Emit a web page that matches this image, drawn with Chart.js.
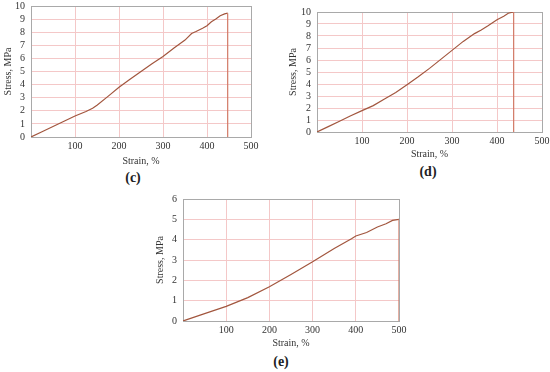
<!DOCTYPE html>
<html>
<head>
<meta charset="utf-8">
<script src="https://cdn.jsdelivr.net/npm/chart.js@4"></script>
<style>
  html, body { margin: 0; padding: 0; background: #fff; }
  body { width: 550px; height: 372px; position: relative; overflow: hidden; }
  canvas { position: absolute; }
  .lbl { position: absolute; font-family: "Liberation Serif", serif; font-weight: bold; font-size: 14px; color: #222; transform: translate(-50%, -50%); white-space: nowrap; }
</style>
</head>
<body>
<canvas id="cC" width="265" height="167" style="left:0px;top:0px"></canvas>
<canvas id="cD" width="265" height="160" style="left:285px;top:0px"></canvas>
<canvas id="cE" width="265" height="159" style="left:150px;top:190px"></canvas>
<div class="lbl" style="left:133px;top:178px">(c)</div>
<div class="lbl" style="left:428px;top:172px">(d)</div>
<div class="lbl" style="left:281px;top:362px">(e)</div>
<script>
// ---- data ----
const strainTicks = [0, 100, 200, 300, 400, 500];
const xTitle = "Strain, %";
const yTitle = "Stress, MPa";

const strainC = [0, 25, 50, 75, 100, 125, 140, 150, 175, 200, 225, 250, 275, 300, 325, 350, 365, 375, 390, 400, 410, 420, 430, 440, 447, 447];
const stressC = [0, 0.4, 0.8, 1.2, 1.6, 1.95, 2.2, 2.42, 3.1, 3.8, 4.4, 5.0, 5.6, 6.15, 6.8, 7.4, 7.9, 8.05, 8.3, 8.5, 8.8, 9.0, 9.25, 9.4, 9.45, 0];

const strainD = [0, 25, 50, 75, 100, 125, 150, 175, 200, 225, 250, 275, 300, 325, 350, 365, 380, 400, 415, 425, 437, 437];
const stressD = [0, 0.45, 0.9, 1.35, 1.78, 2.2, 2.75, 3.3, 3.94, 4.6, 5.3, 6.05, 6.8, 7.55, 8.2, 8.5, 8.85, 9.35, 9.65, 9.9, 10.0, 0];

const strainE = [0, 50, 100, 150, 200, 250, 300, 350, 390, 400, 425, 450, 470, 485, 500, 500];
const stressE = [0, 0.36, 0.72, 1.15, 1.68, 2.29, 2.91, 3.57, 4.05, 4.18, 4.35, 4.62, 4.78, 4.95, 5.0, 0];

// ---- styles ----
const GRID = '#f4c8c8';
const BORDER = '#a9a9a9';
const LINE = '#a2563e';
const DROP = '#d27a66';
const FONT = { family: '"Liberation Serif", "Times New Roman", serif', size: 10 };

function makeChart(id, xs, ys, yMax, cfg) {
  const pts = xs.map((x, i) => ({ x: x, y: ys[i] }));
  const gridColor = (max) => (ctx) => {
    const v = ctx.tick ? ctx.tick.value : null;
    if (v === 0 || v === max) return BORDER;
    return GRID;
  };
  return new Chart(document.getElementById(id), {
    type: 'line',
    data: {
      datasets: [{
        data: pts,
        borderColor: LINE,
        borderWidth: 1.2,
        pointRadius: 0,
        tension: 0,
        segment: {
          borderColor: (c) => (c.p0.parsed.x === c.p1.parsed.x ? DROP : LINE)
        }
      }]
    },
    options: {
      responsive: false,
      animation: false,
      devicePixelRatio: 1,
      layout: { padding: cfg.padding },
      plugins: { legend: { display: false }, tooltip: { enabled: false } },
      scales: {
        x: {
          type: 'linear',
          min: strainTicks[0],
          max: strainTicks[strainTicks.length - 1],
          afterBuildTicks: (s) => { s.ticks = strainTicks.map(v => ({ value: v })); },
          ticks: {
            font: FONT, color: '#333', padding: 3, maxRotation: 0, autoSkip: false,
            callback: (v) => (v === 0 ? '' : String(v))
          },
          grid: { color: gridColor(500), drawTicks: false, lineWidth: 1 },
          border: { color: BORDER, width: 1 },
          title: { display: true, text: xTitle, font: FONT, color: '#333', padding: 0 },
          afterFit: (s) => { s.height = cfg.xH; s.paddingLeft = 0; s.paddingRight = 0; }
        },
        y: {
          type: 'linear',
          min: 0,
          max: yMax,
          ticks: { stepSize: 1, autoSkip: false, font: FONT, color: '#333', padding: 6 },
          grid: { color: gridColor(yMax), drawTicks: false, lineWidth: 1 },
          border: { color: BORDER, width: 1 },
          title: { display: true, text: yTitle, font: FONT, color: '#333', padding: 0 },
          afterFit: (s) => { s.width = cfg.yW; s.paddingTop = 0; s.paddingBottom = 0; }
        }
      }
    }
  });
}

makeChart('cC', strainC, stressC, 10, { padding: { left: 2, right: 14, top: 6, bottom: 0 }, yW: 29, xH: 30 });
makeChart('cD', strainD, stressD, 10, { padding: { left: 2, right: 8, top: 12, bottom: 0 }, yW: 30, xH: 28 });
makeChart('cE', strainE, stressE, 6, { padding: { left: 4, right: 16, top: 9, bottom: 0 }, yW: 29, xH: 28 });
</script>
</body>
</html>
